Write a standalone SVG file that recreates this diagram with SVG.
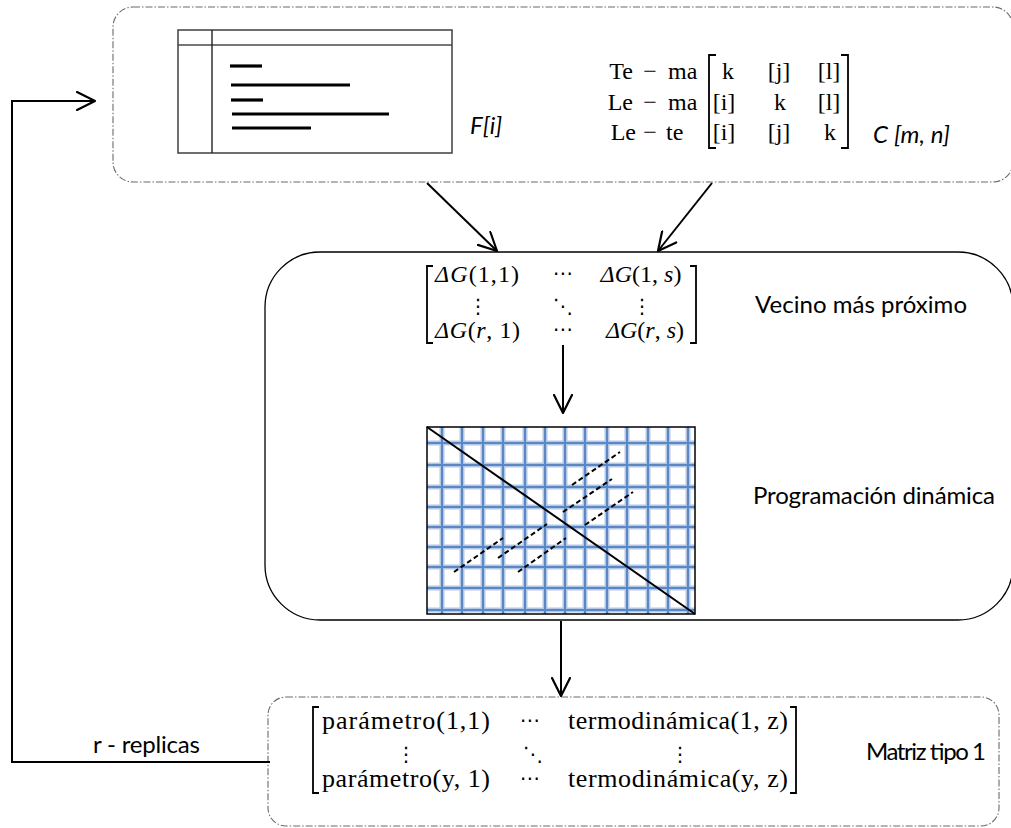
<svg xmlns="http://www.w3.org/2000/svg" width="1011" height="828" viewBox="0 0 1011 828">
  <style>
    .dashbox { fill: none; stroke: #6b6b6b; stroke-width: 1.1; stroke-dasharray: 7 2 1.5 2; }
    .solidbox { fill: none; stroke: #000; stroke-width: 1.3; }
    .conn { fill: none; stroke: #000; stroke-width: 2; }
    .bar { stroke: #000; stroke-width: 3.2; }
    .brk { fill: none; stroke: #000; stroke-width: 1.8; }
    .m { font-family: "Liberation Serif", "DejaVu Serif", serif; font-size: 24px; fill: #000; }
    .mb { font-family: "Liberation Serif", "DejaVu Serif", serif; font-size: 26px; fill: #000; }
    .sym { font-family: "DejaVu Sans", sans-serif; font-size: 20px; fill: #000; }
    .lbl { font-family: Lato, "Liberation Sans", sans-serif; font-size: 24px; fill: #000; }
    .it { font-style: italic; }
    .gridhalo { stroke: #b3c7e5; stroke-width: 5; }
    .gridcore { stroke: #5a88c6; stroke-width: 2; }
    .dd { stroke: #000; stroke-width: 2; stroke-dasharray: 5 3; }
  </style>
  <defs>
    <marker id="vhead" viewBox="0 0 20 20" refX="19" refY="10" markerWidth="20" markerHeight="20" markerUnits="userSpaceOnUse" orient="auto">
      <path d="M1,1 L19,10 L1,19" fill="none" stroke="#000" stroke-width="2.2" stroke-linecap="round" stroke-linejoin="round"/>
    </marker>
    <clipPath id="gridclip">
      <rect x="427" y="427" width="268" height="187"/>
    </clipPath>
  </defs>

  <rect width="1011" height="828" fill="#fff"/>

  <!-- Input stage: feature table and compatibility matrix -->
  <g id="node-input">
    <rect class="dashbox" x="113" y="7" width="900" height="175" rx="20"/>
    <g id="feature-table">
      <rect x="178" y="30" width="274" height="123" fill="none" stroke="#4a4a4a" stroke-width="1.6"/>
      <line x1="178" y1="45" x2="452" y2="45" stroke="#4a4a4a" stroke-width="1.4"/>
      <line x1="212" y1="30" x2="212" y2="153" stroke="#222" stroke-width="1.4"/>
      <line class="bar" x1="230" y1="66" x2="262" y2="66"/>
      <line class="bar" x1="231" y1="85" x2="350" y2="85"/>
      <line class="bar" x1="231" y1="100" x2="263" y2="100"/>
      <line class="bar" x1="232" y1="114" x2="389" y2="114"/>
      <line class="bar" x1="232" y1="128" x2="311" y2="128"/>
    </g>
    <text class="lbl it" x="470" y="134" font-size="21">F[i]</text>

    <g id="compat-matrix">
      <text class="m" x="633" y="79" text-anchor="end">Te</text>
      <text class="m" x="650" y="79" text-anchor="middle">−</text>
      <text class="m" x="668" y="79">ma</text>
      <text class="m" x="633" y="110" text-anchor="end">Le</text>
      <text class="m" x="650" y="110" text-anchor="middle">−</text>
      <text class="m" x="668" y="110">ma</text>
      <text class="m" x="636" y="140" text-anchor="end">Le</text>
      <text class="m" x="650" y="140" text-anchor="middle">−</text>
      <text class="m" x="666" y="140">te</text>
      <path class="brk" d="M716,55 H709 V148 H716"/>
      <path class="brk" d="M841,55 H848 V148 H841"/>
      <text class="m" x="728" y="79" text-anchor="middle">k</text>
      <text class="m" x="779" y="79" text-anchor="middle">[j]</text>
      <text class="m" x="829" y="79" text-anchor="middle">[l]</text>
      <text class="m" x="724" y="110" text-anchor="middle">[i]</text>
      <text class="m" x="780" y="110" text-anchor="middle">k</text>
      <text class="m" x="829" y="110" text-anchor="middle">[l]</text>
      <text class="m" x="724" y="140" text-anchor="middle">[i]</text>
      <text class="m" x="779" y="140" text-anchor="middle">[j]</text>
      <text class="m" x="830" y="140" text-anchor="middle">k</text>
    </g>
    <text class="lbl it" x="873" y="143" font-size="21" textLength="77">C [m, n]</text>
  </g>

  <!-- Processing stage: nearest neighbour + dynamic programming -->
  <g id="node-process">
    <rect class="solidbox" x="265" y="252" width="748" height="368" rx="55"/>
    <g id="delta-matrix">
      <path class="brk" d="M433,266 H427 V343 H433"/>
      <path class="brk" d="M690,266 H696 V343 H690"/>
      <text class="m" x="435" y="282" textLength="84"><tspan class="it">ΔG</tspan>(1,1)</text>
      <text class="sym" x="563" y="280" text-anchor="middle">⋯</text>
      <text class="m" x="641" y="282" text-anchor="middle"><tspan class="it">ΔG</tspan>(1, <tspan class="it">s</tspan>)</text>
      <text class="sym" x="478" y="313" text-anchor="middle">⋮</text>
      <text class="sym" x="563" y="313" text-anchor="middle">⋱</text>
      <text class="sym" x="642" y="313" text-anchor="middle">⋮</text>
      <text class="m" x="435" y="338" textLength="85"><tspan class="it">ΔG</tspan>(<tspan class="it">r</tspan>, 1)</text>
      <text class="sym" x="563" y="336" text-anchor="middle">⋯</text>
      <text class="m" x="645" y="338" text-anchor="middle"><tspan class="it">ΔG</tspan>(<tspan class="it">r</tspan>, <tspan class="it">s</tspan>)</text>
    </g>
    <text class="lbl" x="755" y="313" textLength="212">Vecino más próximo</text>

    <g id="dp-grid">
      <rect x="427" y="427" width="268" height="187" fill="#fff"/>
      <g clip-path="url(#gridclip)">
        <path class="gridhalo" d="M442,427V614M462,427V614M483,427V614M503,427V614M525,427V614M545,427V614M565,427V614M585,427V614M607,427V614M627,427V614M648,427V614M668,427V614M688,427V614M427,443H695M427,465H695M427,487H695M427,507H695M427,527H695M427,547H695M427,567H695M427,588H695M427,610H695"/>
        <path class="gridcore" d="M442,427V614M462,427V614M483,427V614M503,427V614M525,427V614M545,427V614M565,427V614M585,427V614M607,427V614M627,427V614M648,427V614M668,427V614M688,427V614M427,443H695M427,465H695M427,487H695M427,507H695M427,527H695M427,547H695M427,567H695M427,588H695M427,610H695"/>
      </g>
      <rect x="427" y="427" width="268" height="187" fill="none" stroke="#000" stroke-width="1.5"/>
      <line x1="427" y1="427" x2="695" y2="614" stroke="#000" stroke-width="2"/>
      <line class="dd" x1="572" y1="485" x2="620" y2="452"/>
      <line class="dd" x1="563" y1="512" x2="612" y2="479"/>
      <line class="dd" x1="585" y1="525" x2="633" y2="492"/>
      <line class="dd" x1="498" y1="558" x2="547" y2="524"/>
      <line class="dd" x1="454" y1="572" x2="503" y2="538"/>
      <line class="dd" x1="518" y1="572" x2="566" y2="538"/>
    </g>
    <text class="lbl" x="753" y="504" textLength="242">Programación dinámica</text>
  </g>

  <!-- Output stage: type 1 matrix -->
  <g id="node-output">
    <rect class="dashbox" x="268" y="697" width="731" height="129" rx="18"/>
    <path class="brk" d="M319,707 H313 V793 H319"/>
    <path class="brk" d="M790,707 H796 V793 H790"/>
    <text class="mb" x="322" y="729" textLength="168">parámetro(1,1)</text>
    <text class="sym" x="530" y="727" text-anchor="middle">⋯</text>
    <text class="mb" x="568" y="729" textLength="220">termodinámica(1, z)</text>
    <text class="sym" x="406" y="761" text-anchor="middle">⋮</text>
    <text class="sym" x="533" y="761" text-anchor="middle">⋱</text>
    <text class="sym" x="680" y="761" text-anchor="middle">⋮</text>
    <text class="mb" x="322" y="787" textLength="168">parámetro(y, 1)</text>
    <text class="sym" x="530" y="785" text-anchor="middle">⋯</text>
    <text class="mb" x="568" y="787" textLength="220">termodinámica(y, z)</text>
    <text class="lbl" x="866" y="760" font-size="23" textLength="120">Matriz tipo 1</text>
  </g>

  <!-- Connectors -->
  <g id="connectors">
    <line class="conn" x1="427" y1="183" x2="497" y2="251" marker-end="url(#vhead)"/>
    <line class="conn" x1="712" y1="183" x2="658" y2="251" marker-end="url(#vhead)"/>
    <line class="conn" x1="563" y1="345" x2="563" y2="413" marker-end="url(#vhead)"/>
    <line class="conn" x1="561" y1="621" x2="561" y2="696" marker-end="url(#vhead)"/>
    <path class="conn" d="M270,762 H12 V101 H95" marker-end="url(#vhead)"/>
    <text class="lbl" x="93" y="753" font-size="22" textLength="107">r - replicas</text>
  </g>
</svg>
